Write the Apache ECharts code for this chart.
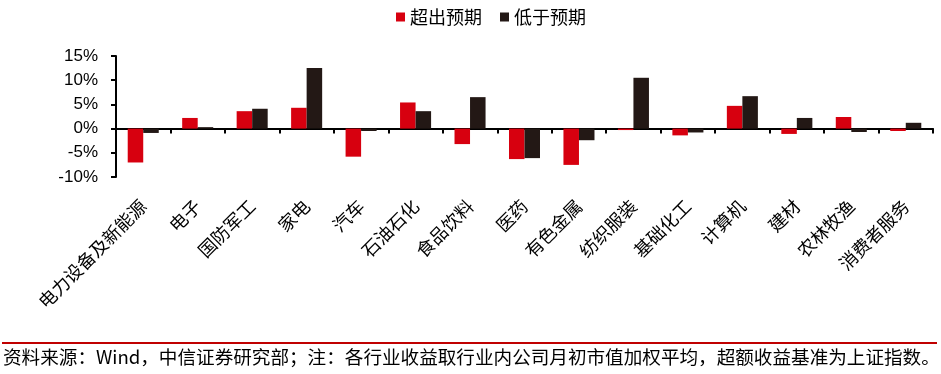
<!DOCTYPE html>
<html>
<head>
<meta charset="utf-8">
<script src="https://cdn.jsdelivr.net/npm/echarts@6/dist/echarts.min.js"></script>
<style>html,body{margin:0;padding:0;background:#fff;}#c{width:941px;height:374px;}</style>
</head>
<body>
<div id="c"></div>
<script>
const categories = ['电力设备及新能源','电子','国防军工','家电','汽车','石油石化','食品饮料','医药','有色金属','纺织服装','基础化工','计算机','建材','农林牧渔','消费者服务'];
const aboveExpect = [-7.0, 2.2, 3.6, 4.3, -5.8, 5.4, -3.2, -6.3, -7.5, -0.3, -1.4, 4.7, -1.1, 2.4, -0.5];
const belowExpect = [-0.9, 0.3, 4.1, 12.5, -0.5, 3.6, 6.5, -6.1, -2.4, 10.5, -0.8, 6.7, 2.2, -0.7, 1.2];
const seriesNames = ['超出预期','低于预期'];
const yTicks = {min: -10, max: 15, interval: 5};
const footnote = '资料来源：Wind，中信证券研究部；注：各行业收益取行业内公司月初市值加权平均，超额收益基准为上证指数。';

const cjk = '"Noto Sans CJK SC", "Microsoft YaHei", sans-serif';
const chart = echarts.init(document.getElementById('c'), null, {renderer: 'canvas'});
chart.setOption({
  animation: false,
  backgroundColor: '#fff',
  legend: {
    top: 3, left: 391,
    itemWidth: 9, itemHeight: 9, itemGap: 18,
    icon: 'rect',
    textStyle: {fontFamily: cjk, fontSize: 18, color: '#000'},
    data: seriesNames
  },
  grid: {left: 116, right: 8, top: 56, bottom: 197, containLabel: false},
  xAxis: {
    type: 'category',
    data: categories,
    axisLine: {onZero: true, lineStyle: {color: '#000', width: 2}},
    axisTick: {show: true, inside: false, length: 5, lineStyle: {color: '#000', width: 2}},
    axisLabel: {rotate: 45, margin: 26, interval: 0, fontFamily: cjk, fontSize: 18, color: '#000'},
    splitLine: {show: false}
  },
  yAxis: {
    type: 'value',
    min: yTicks.min, max: yTicks.max, interval: yTicks.interval,
    axisLine: {show: true, lineStyle: {color: '#000', width: 2}},
    axisTick: {show: true, length: 5, lineStyle: {color: '#000', width: 2}},
    axisLabel: {formatter: v => v + '%', margin: 18, fontFamily: '"Liberation Sans", Arial, sans-serif', fontSize: 17, color: '#000'},
    splitLine: {show: false}
  },
  series: [
    {name: seriesNames[0], type: 'bar', data: aboveExpect, barGap: '0%', barCategoryGap: '43%',
     itemStyle: {color: '#D7000F'}},
    {name: seriesNames[1], type: 'bar', data: belowExpect, barGap: '0%', barCategoryGap: '43%',
     itemStyle: {color: '#231815'}}
  ],
  graphic: [
    {type: 'rect', shape: {x: 2, y: 342, width: 935, height: 2}, style: {fill: '#C00000'}},
    {type: 'text', left: 3, top: 348, style: {text: footnote, font: '18.6px ' + cjk, fill: '#000'}}
  ]
});
</script>
</body>
</html>
